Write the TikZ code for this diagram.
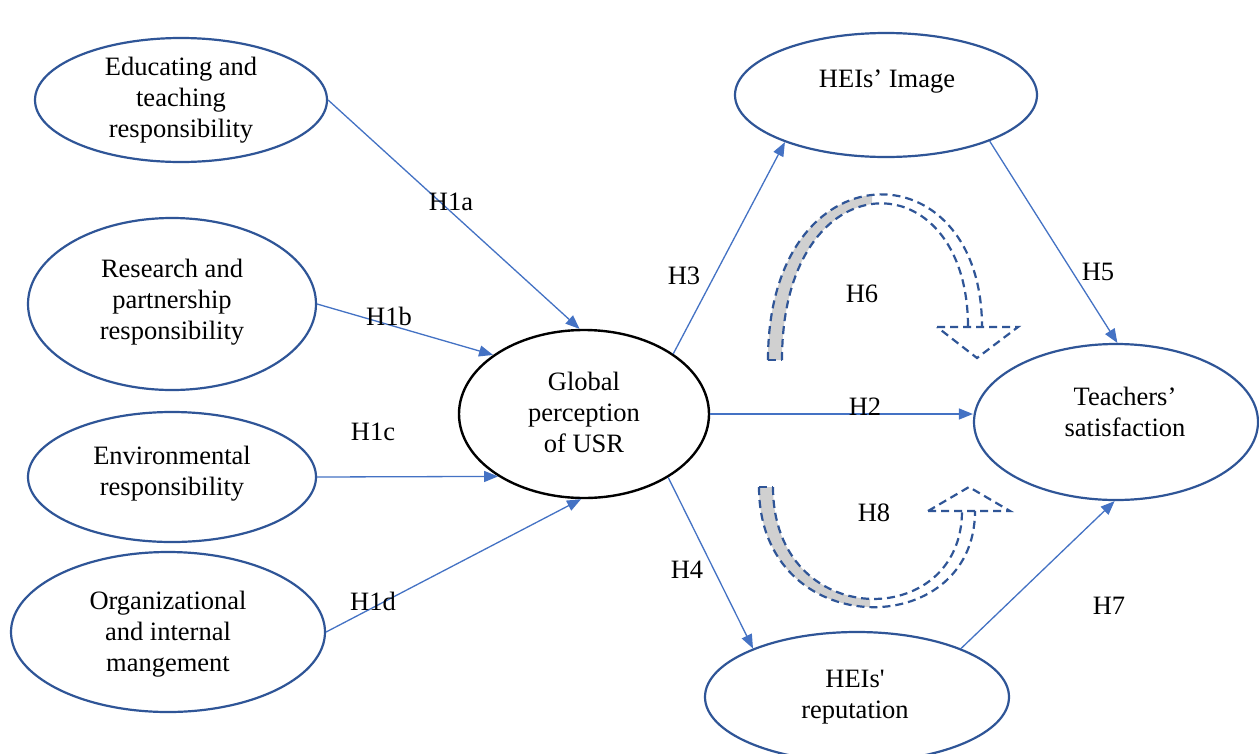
\documentclass[tikz,border=0pt]{standalone}
\usepackage{fontspec}
\setmainfont{Liberation Serif}
\usetikzlibrary{shapes.geometric,arrows.meta}
\definecolor{ovalblue}{HTML}{2F5597}
\definecolor{arrblue}{HTML}{4472C4}
\definecolor{bandgray}{HTML}{D0D0D0}
\begin{document}
\begin{tikzpicture}[x=1pt,y=-1pt,
  oval/.style={ellipse, draw=ovalblue, line width=2.2pt, inner sep=0pt},
  txt/.style={align=center, font=\fontsize{26.5}{31}\selectfont, inner sep=0pt},
  hlab/.style={font=\fontsize{26.5}{31}\selectfont, inner sep=0pt},
  conn/.style={draw=arrblue, line width=1.3pt, -{Triangle[length=14pt,width=11pt]}},
  dashline/.style={draw=ovalblue, line width=2.2pt, dash pattern=on 8pt off 5pt}
]
\fill[white] (0,0) rectangle (1259,753);
\useasboundingbox (0,0) rectangle (1259,753);

% ellipses
\node[oval, minimum width=292pt, minimum height=124pt] (edu) at (181,100) {};
\node[oval, minimum width=288pt, minimum height=172pt] (res) at (172,304) {};
\node[oval, minimum width=288pt, minimum height=130pt] (env) at (172,477) {};
\node[oval, minimum width=314pt, minimum height=160pt] (org) at (168,632) {};
\node[ellipse, draw=black, line width=2.4pt, inner sep=0pt, minimum width=250pt, minimum height=168pt] (glob) at (584,414) {};
\node[oval, minimum width=302pt, minimum height=124pt] (img) at (886,95) {};
\node[oval, minimum width=284pt, minimum height=156pt] (teach) at (1116,422) {};
\node[oval, minimum width=304pt, minimum height=130pt] (rep) at (857,697) {};

% texts
\node[txt] (tedu) at (181,100) {Educating and\\teaching\\responsibility};
\node[txt] (tres) at (172,302) {Research and\\partnership\\responsibility};
\node[txt] (tenv) at (172,474) {Environmental\\responsibility};
\node[txt] (torg) at (168,634) {Organizational\\and internal\\mangement};
\node[txt] (tglob) at (584,412) {Global\\perception\\of USR};
\node[txt] (timg) at (887,82) {HEIs’ Image};
\node[txt] (tteach) at (1125,412) {Teachers’\\satisfaction};
\node[txt] (trep) at (855,697) {HEIs\textquotesingle\\reputation};

% connectors
\draw[conn] (edu.east) -- (glob.93);
\draw[conn] (res.east) -- (glob.147);
\draw[conn] (env.east) -- (glob.216);
\draw[conn] (org.east) -- (glob.268);
\draw[conn] (glob.34) -- (img.205);
\draw[conn] (glob.east) -- (glob.east -| teach.west);
\draw[conn] (glob.323) -- (rep.155);
\draw[conn] (img.336) -- (teach.89);
\draw[conn] (rep.25) -- (teach.269);

% labels
\node[hlab] (h1a) at (451,202) {H1a};
\node[hlab] (h1b) at (389,316) {H1b};
\node[hlab] (h1c) at (373,432) {H1c};
\node[hlab] (h1d) at (373,601) {H1d};
\node[hlab] (h3) at (684,276) {H3};
\node[hlab] (h6) at (862,294) {H6};
\node[hlab] (h2) at (865,407) {H2};
\node[hlab] (h8) at (874,513) {H8};
\node[hlab] (h4) at (687,570) {H4};
\node[hlab] (h5) at (1098,272) {H5};
\node[hlab] (h7) at (1109,606) {H7};

% H6 curved arrow
\begin{scope}
\clip (700,150) rectangle (872,370);
\fill[bandgray] (768,360) .. controls (768,145) and (982,145) .. (982,327)
  -- (968,327) .. controls (968,157) and (782,157) .. (782,360) -- cycle;
\end{scope}
\draw[dashline] (768,360) .. controls (768,145) and (982,145) .. (982,327);
\draw[dashline] (782,360) .. controls (782,157) and (968,157) .. (968,327);
\draw[dashline] (768,360) -- (782,360);
\draw[dashline] (937,327) -- (1018,327) -- (977,358) -- cycle;

% H8 curved arrow
\begin{scope}
\clip (700,480) rectangle (870,620);
\fill[bandgray] (759,487) .. controls (759,643) and (975,643) .. (975,511)
  -- (962,511) .. controls (962,632) and (773,632) .. (773,487) -- cycle;
\end{scope}
\draw[dashline] (759,487) .. controls (759,643) and (975,643) .. (975,511);
\draw[dashline] (773,487) .. controls (773,632) and (962,632) .. (962,511);
\draw[dashline] (759,487) -- (773,487);
\draw[dashline] (928,511) -- (1010,511) -- (969,487) -- cycle;
\end{tikzpicture}
\end{document}
